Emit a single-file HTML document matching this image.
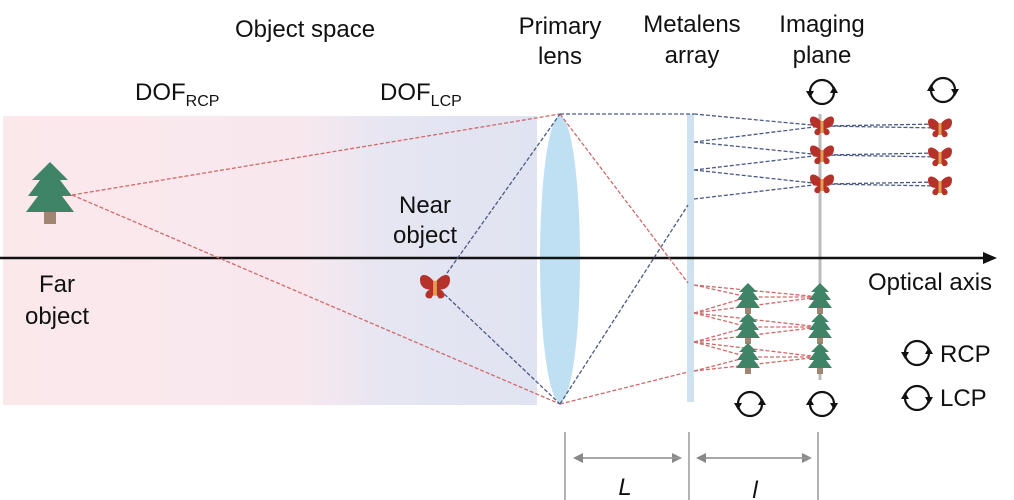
<!DOCTYPE html>
<html><head><meta charset="utf-8"><style>
body{margin:0;background:#fff;width:1014px;height:500px;overflow:hidden}
svg{display:block}
text{font-family:"Liberation Sans",sans-serif;fill:#111}
</style></head><body>
<svg width="1014" height="500" viewBox="0 0 1014 500">
<defs>
<linearGradient id="bg" x1="0" x2="1" y1="0" y2="0">
<stop offset="0" stop-color="#fbe8eb"/><stop offset="0.55" stop-color="#f8e8ee"/><stop offset="0.72" stop-color="#e6e6f2"/><stop offset="1" stop-color="#e0e3f1"/>
</linearGradient>
<g id="tree"><polygon points="0,-14 -9,-5 -5,-5 -11,3 -6,3 -12,11 12,11 6,3 11,3 5,-5 9,-5" fill="#3f8467"/><rect x="-3" y="11" width="6" height="6" fill="#a08570"/></g>
<g id="bf"><path d="M0,-3 C-4,-10 -12,-12 -12,-6 C-12,0 -8,2 -4,2 C-9,4 -9,10 -3,9 L0,4 L3,9 C9,10 9,4 4,2 C8,2 12,0 12,-6 C12,-12 4,-10 0,-3Z" fill="#b5322b"/><rect x="-1.5" y="-5" width="3" height="12" fill="#e0a050"/></g>
<marker id="ah" markerWidth="10" markerHeight="10" refX="8" refY="5" orient="auto" markerUnits="userSpaceOnUse"><path d="M0,0 L10,5 L0,10Z" fill="#888"/></marker>
<g id="cw"><circle r="12" fill="none" stroke="#111" stroke-width="2.2"/><path d="M-16,-1 L-12,6 L-8,-1Z" fill="#111"/><path d="M8,1 L12,-6 L16,1Z" fill="#111"/></g>
<g id="ccw"><circle r="12" fill="none" stroke="#111" stroke-width="2.2"/><path d="M-16,1 L-12,-6 L-8,1Z" fill="#111"/><path d="M8,-1 L12,6 L16,-1Z" fill="#111"/></g>
</defs>
<rect x="3" y="116" width="534" height="289" fill="url(#bg)"/>
<ellipse cx="560" cy="259" rx="20" ry="143" fill="#bfe0f2"/>
<rect x="687" y="114" width="7" height="288" fill="#cde2ee"/>
<line x1="820" y1="114" x2="820" y2="380" stroke="#bbb" stroke-width="3"/>
<line x1="0" y1="258" x2="985" y2="258" stroke="#111" stroke-width="2.5"/>
<polygon points="983,252 997,258 983,264" fill="#111"/>
<g fill="none" stroke-width="1.3" stroke-dasharray="4,2">
<g stroke="#d06a6a">
<line x1="72" y1="195" x2="560" y2="114"/><line x1="72" y1="195" x2="560" y2="404"/>
<line x1="560" y1="114" x2="688" y2="283"/><line x1="560" y1="404" x2="688" y2="372"/>
<path d="M694,285 L748,297 L820,297 M694,313 L748,297 M694,313 L748,327 L820,327 M694,342 L748,327 M694,342 L748,357 L820,357 M694,371 L748,357"/>
<path d="M694,285 L820,297 M694,313 L820,297 M694,313 L820,327 M694,342 L820,327 M694,342 L820,357 M694,371 L820,357"/>
</g>
<g stroke="#4a5a86">
<line x1="440" y1="283" x2="560" y2="114"/><line x1="440" y1="290" x2="560" y2="404"/>
<line x1="560" y1="114" x2="694" y2="114"/><line x1="560" y1="404" x2="688" y2="205"/>
<path d="M694,114 L822,126 L940,128 M694,142 L822,126 M694,142 L822,155 L940,157 M694,170 L822,155 M694,170 L822,184 L940,186 M694,199 L822,184"/>
<path d="M822,126 L940,124 M822,155 L940,153 M822,184 L940,182"/>
</g>
</g>
<use href="#tree" transform="translate(50,190) scale(2)"/>
<use href="#bf" transform="translate(435,287) scale(1.25)"/>
<use href="#bf" x="822" y="126"/><use href="#bf" x="822" y="155"/><use href="#bf" x="822" y="184"/>
<use href="#bf" x="940" y="128"/><use href="#bf" x="940" y="157"/><use href="#bf" x="940" y="186"/>
<use href="#tree" x="748" y="297"/><use href="#tree" x="748" y="327"/><use href="#tree" x="748" y="357"/>
<use href="#tree" x="820" y="297"/><use href="#tree" x="820" y="327"/><use href="#tree" x="820" y="357"/>
<use href="#cw" x="822" y="92"/><use href="#ccw" x="943" y="90"/>
<use href="#cw" x="750" y="404"/><use href="#ccw" x="822" y="404"/>
<use href="#cw" x="917" y="353"/><use href="#ccw" x="917" y="398"/>
<g font-size="24">
<text x="235" y="37">Object space</text>
<text x="135" y="100">DOF<tspan font-size="16" dy="6">RCP</tspan></text>
<text x="380" y="100">DOF<tspan font-size="16" dy="6">LCP</tspan></text>
<text x="560" y="34" text-anchor="middle">Primary</text><text x="560" y="64" text-anchor="middle">lens</text>
<text x="692" y="32" text-anchor="middle">Metalens</text><text x="692" y="63" text-anchor="middle">array</text>
<text x="822" y="32" text-anchor="middle">Imaging</text><text x="822" y="63" text-anchor="middle">plane</text>
<text x="425" y="213" text-anchor="middle">Near</text><text x="425" y="243" text-anchor="middle">object</text>
<text x="57" y="292" text-anchor="middle">Far</text><text x="57" y="324" text-anchor="middle">object</text>
<text x="868" y="290">Optical axis</text>
<text x="940" y="362">RCP</text><text x="940" y="406">LCP</text>
<text x="625" y="495" font-style="italic" text-anchor="middle">L</text>
<text x="755" y="498" font-style="italic" text-anchor="middle">l</text>
</g>
<g stroke="#999" stroke-width="1.5">
<line x1="565" y1="432" x2="565" y2="500"/><line x1="689" y1="432" x2="689" y2="500"/><line x1="818" y1="432" x2="818" y2="500"/>
<line x1="575" y1="458" x2="680" y2="458" marker-end="url(#ah)"/><line x1="680" y1="458" x2="575" y2="458" marker-end="url(#ah)"/>
<line x1="698" y1="458" x2="810" y2="458" marker-end="url(#ah)"/><line x1="810" y1="458" x2="698" y2="458" marker-end="url(#ah)"/>
</g>
</svg>
</body></html>
